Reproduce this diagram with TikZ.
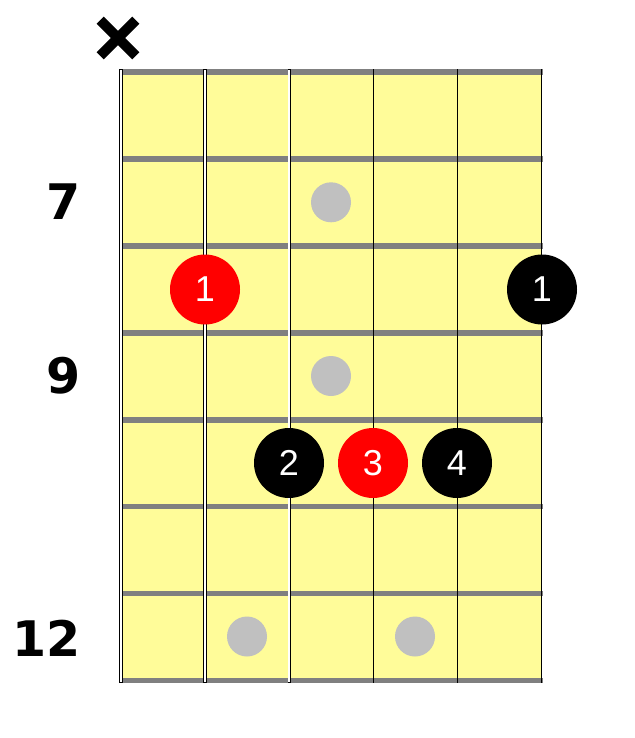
\documentclass[tikz,border=0pt]{standalone}
\usepackage{fontspec}
\newfontfamily\fretfont{DejaVu Sans}
\newfontfamily\dotfont{Liberation Sans}
\definecolor{fbyellow}{HTML}{FFFC99}
\definecolor{fretgray}{HTML}{808080}
\definecolor{markgray}{HTML}{C0C0C0}
\definecolor{dotred}{HTML}{FF0000}
\tikzset{
  fretbar/.style={fill=fretgray},
  marker/.style={circle, fill=markgray, minimum size=40pt, inner sep=0pt},
  fingerdot/.style={circle, minimum size=70pt, inner sep=0pt, text=white, font=\dotfont\fontsize{36}{36}\selectfont},
  fingred/.style={fingerdot, fill=dotred},
  fingblack/.style={fingerdot, fill=black},
  fretnum/.style={anchor=east, inner sep=0pt, font=\fretfont\bfseries\fontsize{49}{49}\selectfont},
  mutestroke/.style={line width=10pt, line cap=butt}
}
\begin{document}
\begin{tikzpicture}[x=1pt, y=-1pt]
\useasboundingbox (0,0) rectangle (634,738);
% board
\fill[fbyellow] (121,72) rectangle (542,680);
\foreach \i in {0,...,7} {
  \fill[fretbar] (121,{72+\i*86.93-2.8}) rectangle (543,{72+\i*86.93+2.8});
}
% strings
\draw[line width=4.4pt] (121,69.3) -- (121,683.3);
\draw[white, line width=2.6pt] (121,70.3) -- (121,682.3);
\draw[line width=4pt] (205,69.3) -- (205,683.3);
\draw[white, line width=2.2pt] (205,70.3) -- (205,682.3);
\draw[line width=3pt] (289,69.3) -- (289,683.3);
\draw[white, line width=1.3pt] (289,70.3) -- (289,682.3);
\foreach \x in {373,457,541.8} {
  \draw[line width=1pt] (\x,69.3) -- (\x,683.3);
}
% inlay markers
\node[marker] (m7)  at (331,202.3) {};
\node[marker] (m9)  at (331,376) {};
\node[marker] (m12a) at (247,636.5) {};
\node[marker] (m12b) at (415,636.5) {};
% fret numbers
\node[fretnum] (n7)  at (80.5,202) {7};
\node[fretnum] (n9)  at (80.5,376) {9};
\node[fretnum] (n12) at (80.5,638) {12};
% mute mark
\coordinate (mute) at (118,38);
\draw[mutestroke] ([shift={(-17.8,-17.8)}]mute) -- ([shift={(17.8,17.8)}]mute);
\draw[mutestroke] ([shift={(-17.8,17.8)}]mute) -- ([shift={(17.8,-17.8)}]mute);
% finger dots
\node[fingred]   (f1r) at (205,289.5) {1};
\node[fingblack] (f1b) at (542,289.5) {1};
\node[fingblack] (f2)  at (289,463) {2};
\node[fingred]   (f3)  at (373,463) {3};
\node[fingblack] (f4)  at (457,463) {4};
\end{tikzpicture}
\end{document}
